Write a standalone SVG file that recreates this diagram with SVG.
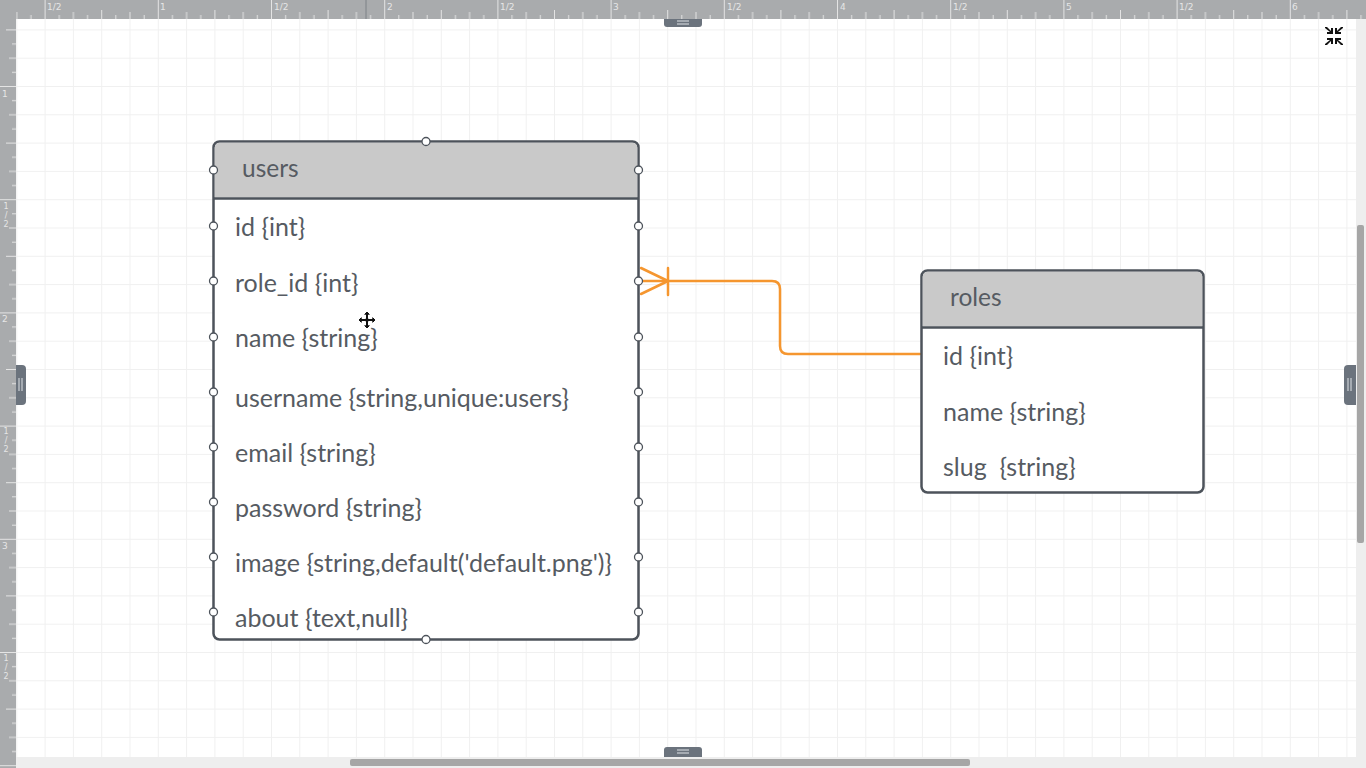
<svg xmlns="http://www.w3.org/2000/svg" width="1366" height="768" viewBox="0 0 1366 768">
<defs>
<style>
.tbl{fill:#ffffff;stroke:#4d535b;stroke-width:2.5}
.hdr{fill:#c9c9c9}
.sep{stroke:#4d535b;stroke-width:2.5}
.ttl{font-family:Lato,"Open Sans",sans-serif;font-size:24.5px;fill:#565b62}
.fld{font-family:Lato,"Open Sans",sans-serif;font-size:25px;fill:#565b62}
.pt{fill:#ffffff;stroke:#4d535b;stroke-width:1.3}
.conn{fill:none;stroke:#f5962f;stroke-width:2.5;stroke-linecap:round;stroke-linejoin:round}
.rl{font-family:"DejaVu Sans",sans-serif;font-size:9px;fill:#e6e6e6}
.tk{stroke:#e4e4e4;stroke-width:1}
.hdl{fill:#6b737d}
.hdlline{stroke:#b9bec4;stroke-width:1.5}
</style>
<pattern id="grid" patternUnits="userSpaceOnUse" x="44.6" y="29.4" width="28.3" height="28.3">
<path d="M0.5 0V28.3M0 0.5H28.3" stroke="#f0f0f0" stroke-width="1" fill="none"/>
</pattern>
<pattern id="tticks" patternUnits="userSpaceOnUse" x="44.6" y="0" width="113.2" height="19">
<path d="M0.5 0V19M14.65 15V19M28.8 12V19M42.95 15V19M57.1 10V19M71.25 15V19M85.4 12V19M99.55 15V19" class="tk" fill="none"/>
</pattern>
<pattern id="lticks" patternUnits="userSpaceOnUse" x="0" y="86" width="16" height="113.2">
<path d="M0 0.5H16M12 14.65H16M9 28.8H16M12 42.95H16M6 57.1H16M12 71.25H16M9 85.4H16M12 99.55H16" class="tk" fill="none"/>
</pattern>
</defs>

<rect x="0" y="0" width="1366" height="768" fill="#ffffff"/>
<rect x="16" y="19" width="1340" height="738" fill="url(#grid)"/>

<g id="rulers">
<rect x="0" y="0" width="1366" height="19" fill="#a9abad"/>
<rect x="0" y="0" width="16" height="768" fill="#a9abad"/>
<rect x="16" y="0" width="1350" height="19" fill="url(#tticks)"/>
<rect x="0" y="19" width="16" height="749" fill="url(#lticks)"/>
<rect x="0" y="0" width="16" height="19" fill="#a9abad"/>
<line x1="366" y1="0" x2="366" y2="19" stroke="#7d8186" stroke-width="1"/>
<text class="rl" x="47" y="10">1/2</text>
<text class="rl" x="160" y="10">1</text>
<text class="rl" x="274" y="10">1/2</text>
<text class="rl" x="387" y="10">2</text>
<text class="rl" x="500" y="10">1/2</text>
<text class="rl" x="613" y="10">3</text>
<text class="rl" x="727" y="10">1/2</text>
<text class="rl" x="840" y="10">4</text>
<text class="rl" x="953" y="10">1/2</text>
<text class="rl" x="1066" y="10">5</text>
<text class="rl" x="1179" y="10">1/2</text>
<text class="rl" x="1292" y="10">6</text>
<text class="rl" x="2" y="97">1</text>
<text class="rl" x="6" y="202" style="writing-mode:vertical-rl;text-orientation:upright;font-size:8px">1/2</text>
<text class="rl" x="2" y="322">2</text>
<text class="rl" x="6" y="427" style="writing-mode:vertical-rl;text-orientation:upright;font-size:8px">1/2</text>
<text class="rl" x="2" y="549">3</text>
<text class="rl" x="6" y="654" style="writing-mode:vertical-rl;text-orientation:upright;font-size:8px">1/2</text>
</g>

<g id="scrollbars">
<rect x="1356" y="19" width="10" height="749" fill="#eeeeee"/>
<rect x="1357" y="225" width="7" height="318" rx="2" fill="#a6a6a6"/>
<rect x="16" y="757" width="1350" height="11" fill="#eeeeee"/>
<rect x="350" y="759" width="620" height="7" rx="2" fill="#a6a6a6"/>
</g>

<g id="handles">
<path class="hdl" d="M664 19H702V24Q702 27 699 27H667Q664 27 664 24Z"/>
<line class="hdlline" x1="677" y1="21" x2="689" y2="21"/><line class="hdlline" x1="677" y1="24" x2="689" y2="24"/>
<path class="hdl" d="M664 757V750Q664 747 667 747H699Q702 747 702 750V757Z"/>
<line class="hdlline" x1="677" y1="750" x2="689" y2="750"/><line class="hdlline" x1="677" y1="753" x2="689" y2="753"/>
<path class="hdl" d="M16 365H22Q26 365 26 369V401Q26 405 22 405H16Z"/>
<line class="hdlline" x1="19" y1="378" x2="19" y2="391"/><line class="hdlline" x1="22" y1="378" x2="22" y2="391"/>
<path class="hdl" d="M1356 365H1348Q1344 365 1344 369V401Q1344 405 1348 405H1356Z"/>
<line class="hdlline" x1="1348" y1="378" x2="1348" y2="391"/><line class="hdlline" x1="1351" y1="378" x2="1351" y2="391"/>
</g>

<g id="collapse-icon" fill="#111111">
<polygon points="1325,27 1327,27 1331,31 1331,28 1333,28 1333,34 1327,34 1327,32 1330,32 1325,28"/>
<polygon points="1343,27 1341,27 1337,31 1337,28 1335,28 1335,34 1341,34 1341,32 1338,32 1343,28"/>
<polygon points="1325,45 1327,45 1331,41 1331,44 1333,44 1333,38 1327,38 1327,40 1330,40 1325,44"/>
<polygon points="1343,45 1341,45 1337,41 1337,44 1335,44 1335,38 1341,38 1341,40 1338,40 1343,44"/>
</g>

<g id="connectors">
<path class="conn" d="M639 281H772Q780 281 780 289V346Q780 354 788 354H920"/>
<path class="conn" d="M641 268L668 281L641 294"/>
<line class="conn" x1="668" y1="268" x2="668" y2="295"/>
</g>

<g id="users">
<rect class="tbl" x="213.5" y="141.5" width="425" height="498" rx="6"/>
<path class="hdr" d="M220 142.75H632Q637.25 142.75 637.25 148V197.5H214.75V148Q214.75 142.75 220 142.75Z"/>
<line class="sep" x1="213.5" y1="198.5" x2="638.5" y2="198.5"/>
<text class="ttl" x="242" y="177">users</text>
<text class="fld" x="235" y="236">id {int}</text>
<text class="fld" x="235" y="292">role_id {int}</text>
<text class="fld" x="235" y="347">name {string}</text>
<text class="fld" x="235" y="407">username {string,unique:users}</text>
<text class="fld" x="235" y="462">email {string}</text>
<text class="fld" x="235" y="517">password {string}</text>
<text class="fld" x="235" y="572">image {string,default('default.png')}</text>
<text class="fld" x="235" y="627">about {text,null}</text>
<circle class="pt" cx="426" cy="141.5" r="4"/>
<circle class="pt" cx="426" cy="639.5" r="4"/>
<circle class="pt" cx="213.5" cy="170" r="4"/><circle class="pt" cx="638.5" cy="170" r="4"/>
<circle class="pt" cx="213.5" cy="226" r="4"/><circle class="pt" cx="638.5" cy="226" r="4"/>
<circle class="pt" cx="213.5" cy="281" r="4"/><circle class="pt" cx="638.5" cy="281" r="4"/>
<circle class="pt" cx="213.5" cy="337" r="4"/><circle class="pt" cx="638.5" cy="337" r="4"/>
<circle class="pt" cx="213.5" cy="392" r="4"/><circle class="pt" cx="638.5" cy="392" r="4"/>
<circle class="pt" cx="213.5" cy="447" r="4"/><circle class="pt" cx="638.5" cy="447" r="4"/>
<circle class="pt" cx="213.5" cy="502" r="4"/><circle class="pt" cx="638.5" cy="502" r="4"/>
<circle class="pt" cx="213.5" cy="557" r="4"/><circle class="pt" cx="638.5" cy="557" r="4"/>
<circle class="pt" cx="213.5" cy="612" r="4"/><circle class="pt" cx="638.5" cy="612" r="4"/>
</g>

<g id="roles">
<rect class="tbl" x="921.5" y="270.5" width="282" height="222" rx="6"/>
<path class="hdr" d="M928 271.75H1197Q1202.25 271.75 1202.25 277V326.5H922.75V277Q922.75 271.75 928 271.75Z"/>
<line class="sep" x1="921.5" y1="327.5" x2="1203.5" y2="327.5"/>
<text class="ttl" x="950" y="306">roles</text>
<text class="fld" x="943" y="365">id {int}</text>
<text class="fld" x="943" y="421">name {string}</text>
<text class="fld" x="943" y="476" xml:space="preserve">slug  {string}</text>
</g>

<g id="cursor">
<path d="M367 311L371 315H368.5V318.5H372V316L376 320L372 324V321.5H368.5V325H371L367 329L363 325H365.5V321.5H362V324L358 320L362 316V318.5H365.5V315H363Z" fill="#111111" stroke="#ffffff" stroke-width="1"/>
</g>
</svg>
